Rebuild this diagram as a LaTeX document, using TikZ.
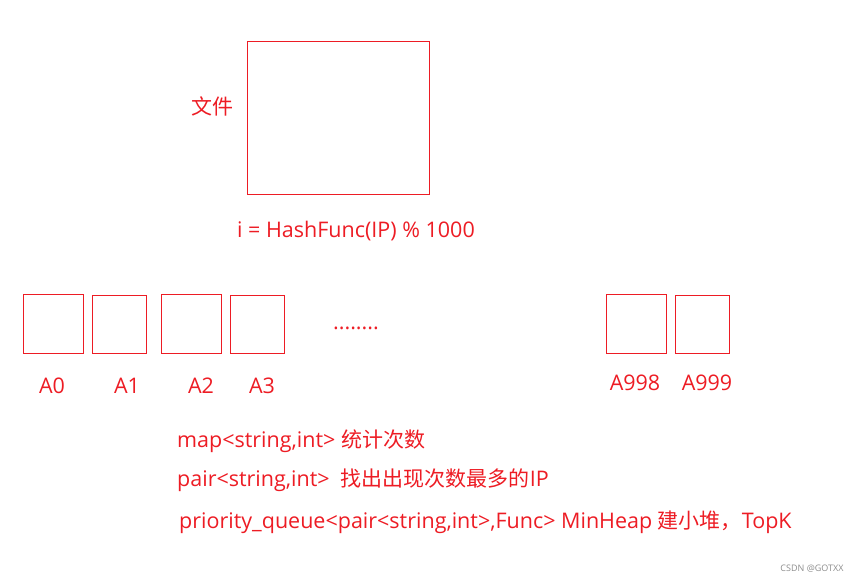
\documentclass[tikz,border=0pt]{standalone}
\usepackage{fontspec}
\setmainfont{Open Sans}
\newfontfamily\cjkfont{Noto Sans CJK SC}
\newcommand{\zh}[1]{{\cjkfont\fontsize{21}{24}\selectfont #1}}
\definecolor{hred}{RGB}{237,28,36}
\tikzset{
    bucket/.style={draw=hred, line width=1pt, minimum width=#1, minimum height=58pt, inner sep=0pt},
    lbl/.style={text=hred, font=\fontsize{21.5}{24}\selectfont, inner sep=0pt},
}
\begin{document}
\begin{tikzpicture}[x=1pt,y=-1pt]
    \useasboundingbox (0,0) rectangle (862,584);
    \node[bucket=182pt, minimum height=153pt] (file) at (338,117.5) {};
    \node[lbl] (filelbl) at (212,106) {\zh{文件}};
    \node[lbl] (hash) at (356,231) {i = HashFunc(IP) \% 1000};
    
    \node[bucket=60pt, minimum height=59pt] (a0) at (53,323.5) {};
    \node[bucket=54pt] (a1) at (119,324) {};
    \node[bucket=60pt, minimum height=59pt] (a2) at (191,323.5) {};
    \node[bucket=54pt] (a3) at (257,324) {};
    \node[lbl, anchor=base] (dots) at (356,329) {........};
    \node[bucket=60pt, minimum height=59pt] (a998) at (636.5,323.5) {};
    \node[bucket=54pt] (a999) at (702,324) {};
    
    \node[lbl] (l0) at (52,386) {A0};
    \node[lbl] (l1) at (127,386) {A1};
    \node[lbl] (l2) at (201,386) {A2};
    \node[lbl] (l3) at (262,386) {A3};
    \node[lbl] (l998) at (635,383) {A998};
    \node[lbl] (l999) at (707,383) {A999};
    
    \node[lbl, anchor=west] (map) at (177,441) {map<string,int> \zh{统计次数}};
    \node[lbl, anchor=west] (pair) at (177,480) {pair<string,int>\ \ \zh{找出出现次数最多的}IP};
    \node[lbl, anchor=west] (pq) at (179,522) {priority\_queue<pair<string,int>,Func> MinHeap \zh{建小堆，}TopK};
    \node[text=black!45, font=\fontsize{9}{11}\selectfont, inner sep=0pt] (mark) at (812,569) {CSDN @GOTXX};
\end{tikzpicture}
\end{document}
